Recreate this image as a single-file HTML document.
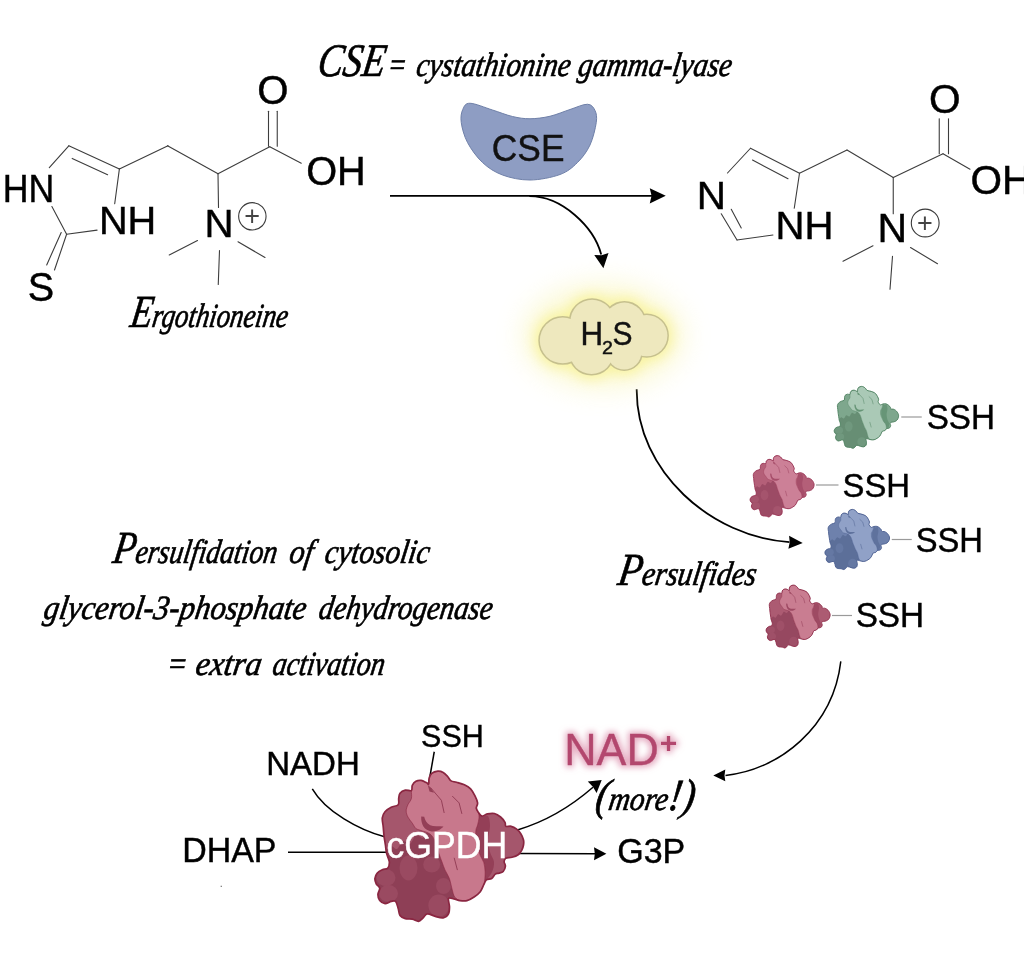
<!DOCTYPE html>
<html lang="en">
<head>
<meta charset="utf-8">
<title>Ergothioneine – CSE – persulfidation of cGPDH</title>
<style>
html,body{margin:0;padding:0;background:#fff;}
body{width:1024px;height:953px;overflow:hidden;}
svg{display:block;will-change:transform;}
.sans{font-family:'Liberation Sans', Arial, Helvetica, sans-serif;}
.sans text{stroke-width:0.45;paint-order:stroke fill;}
.script{font-family:'Liberation Serif', 'DejaVu Serif', serif;font-style:italic;fill:#000;stroke:#000;stroke-width:0.7;}
.bond line{stroke:#3d3d3d;stroke-width:1.1;stroke-linecap:round;}
.arrow path{stroke:#000;stroke-width:1.8;fill:none;}
.arrow path.thin{stroke-width:1.5;}
.pm{fill:var(--mid);}
.pd{fill:var(--dark);}
.ps{fill:var(--shade);}
.plb{fill:var(--lobe);}
.pl{fill:var(--light);stroke:var(--edge);stroke-width:var(--iw);stroke-linejoin:round;}
.pc{fill:none;stroke:var(--shade);stroke-width:var(--cw);stroke-linecap:round;stroke-linejoin:round;}
.pg{fill:var(--shade);}
.po{fill:none;stroke:var(--edge);stroke-width:var(--ow);stroke-linejoin:round;}
.red{--light:#c8788c;--mid:#a5566c;--dark:#8e3f56;--lobe:#9a4a61;--shade:#943f57;--edge:#8a2641;--ow:2.6;--iw:1;--cw:1.6;}
.big{--ow:1.7;--iw:0.6;--cw:1;}
.pink{--light:#cc8097;--mid:#b45f78;--dark:#9c4b65;--lobe:#a5546d;--shade:#a64e6a;--edge:#9c3a59;--ow:2.3;--iw:0.9;--cw:1.5;}
.pink2{--light:#c97d91;--mid:#ac5b72;--dark:#964860;--lobe:#9f5068;--shade:#9e4a63;--edge:#933450;--ow:2.3;--iw:0.9;--cw:1.5;}
.green{--light:#aac9b6;--mid:#7ea78d;--dark:#678e74;--lobe:#70987e;--shade:#679577;--edge:#548565;--ow:2.3;--iw:0.9;--cw:1.5;}
.blue{--light:#90a1c7;--mid:#6e81ac;--dark:#5c6f99;--lobe:#6578a3;--shade:#5f729d;--edge:#506393;--ow:2.3;--iw:0.9;--cw:1.5;}
</style>
</head>
<body>
<svg width="1024" height="953" viewBox="0 0 1024 953">
<defs>
<filter id="glow" x="-50%" y="-80%" width="200%" height="260%"><feGaussianBlur stdDeviation="6.5"/></filter>
<filter id="glow2" x="-50%" y="-80%" width="200%" height="260%"><feGaussianBlur stdDeviation="14"/></filter>
<filter id="pglow" x="-20%" y="-40%" width="140%" height="180%"><feMorphology in="SourceAlpha" operator="dilate" radius="1.6" result="d"/><feGaussianBlur in="d" stdDeviation="3" result="b"/><feFlood flood-color="#e09ab4" flood-opacity="0.85"/><feComposite in2="b" operator="in" result="g"/><feMerge><feMergeNode in="g"/><feMergeNode in="SourceGraphic"/></feMerge></filter>
</defs>
<rect width="1024" height="953" fill="#fff"/>
<g class="bond">
<line x1="68.80" y1="145.80" x2="119.40" y2="168.90"/>
<line x1="72.20" y1="158.40" x2="107.60" y2="174.70"/>
<line x1="68.80" y1="145.80" x2="49.30" y2="167.60"/>
<line x1="119.40" y1="168.90" x2="114.70" y2="203.80"/>
<line x1="97.10" y1="230.10" x2="66.60" y2="234.30"/>
<line x1="66.60" y1="234.30" x2="51.90" y2="206.50"/>
<line x1="66.60" y1="234.30" x2="54.50" y2="270.00"/>
<line x1="61.20" y1="232.60" x2="46.70" y2="264.90"/>
<line x1="119.40" y1="168.90" x2="168.00" y2="145.80"/>
<line x1="167.50" y1="145.75" x2="218.00" y2="173.75"/>
<line x1="218.00" y1="173.75" x2="269.75" y2="146.75"/>
<line x1="268.50" y1="111.25" x2="268.50" y2="146.25"/>
<line x1="277.25" y1="111.25" x2="277.25" y2="146.25"/>
<line x1="269.75" y1="146.75" x2="301.25" y2="163.25"/>
<line x1="218.00" y1="173.75" x2="218.50" y2="207.50"/>
<line x1="197.50" y1="240.50" x2="169.25" y2="255.00"/>
<line x1="238.00" y1="241.75" x2="265.00" y2="257.50"/>
<line x1="219.50" y1="250.50" x2="218.25" y2="284.50"/>
<line x1="750.50" y1="148.25" x2="799.50" y2="173.25"/>
<line x1="752.50" y1="160.00" x2="788.00" y2="178.75"/>
<line x1="750.50" y1="148.25" x2="727.50" y2="173.00"/>
<line x1="799.50" y1="173.25" x2="794.25" y2="208.25"/>
<line x1="773.00" y1="235.00" x2="737.00" y2="240.00"/>
<line x1="737.00" y1="240.00" x2="721.25" y2="213.75"/>
<line x1="741.25" y1="228.00" x2="731.25" y2="209.25"/>
<line x1="799.50" y1="173.25" x2="847.00" y2="150.00"/>
<line x1="847.00" y1="150.00" x2="893.25" y2="177.50"/>
<line x1="893.25" y1="177.50" x2="943.00" y2="153.75"/>
<line x1="939.25" y1="118.75" x2="939.25" y2="153.75"/>
<line x1="948.50" y1="118.75" x2="948.50" y2="153.75"/>
<line x1="943.00" y1="153.75" x2="970.00" y2="169.25"/>
<line x1="893.25" y1="177.50" x2="893.25" y2="213.75"/>
<line x1="873.00" y1="245.75" x2="843.00" y2="261.25"/>
<line x1="910.50" y1="247.50" x2="937.50" y2="263.75"/>
<line x1="892.50" y1="256.25" x2="890.00" y2="289.25"/>
</g>
<circle cx="252.35" cy="216.30" r="13.70" fill="none" stroke="#3a3a3a" stroke-width="1.1"/>
<text class="sans" x="244.15" y="225.04" font-size="27" fill="#444">+</text>
<circle cx="925.20" cy="223.00" r="13.90" fill="none" stroke="#3a3a3a" stroke-width="1.1"/>
<text class="sans" x="917.00" y="231.74" font-size="27" fill="#444">+</text>
<g class="sans">
<text x="2.77" y="202.03" font-size="38.12" textLength="51.54" lengthAdjust="spacingAndGlyphs" fill="#000" stroke="#000">HN</text>
<text x="98.90" y="234.28" font-size="39.20" textLength="57.38" lengthAdjust="spacingAndGlyphs" fill="#000" stroke="#000">NH</text>
<text x="27.74" y="301.26" font-size="41.20" textLength="26.39" lengthAdjust="spacingAndGlyphs" fill="#000" stroke="#000">S</text>
<text x="257.32" y="104.37" font-size="40.21" textLength="31.29" lengthAdjust="spacingAndGlyphs" fill="#000" stroke="#000">O</text>
<text x="306.14" y="185.28" font-size="39.79" textLength="59.62" lengthAdjust="spacingAndGlyphs" fill="#000" stroke="#000">OH</text>
<text x="204.60" y="237.08" font-size="38.77" textLength="29.08" lengthAdjust="spacingAndGlyphs" fill="#000" stroke="#000">N</text>
<text x="696.69" y="209.18" font-size="39.49" textLength="29.21" lengthAdjust="spacingAndGlyphs" fill="#000" stroke="#000">N</text>
<text x="775.62" y="238.97" font-size="39.64" textLength="57.94" lengthAdjust="spacingAndGlyphs" fill="#000" stroke="#000">NH</text>
<text x="877.55" y="242.47" font-size="39.78" textLength="29.60" lengthAdjust="spacingAndGlyphs" fill="#000" stroke="#000">N</text>
<text x="928.90" y="113.07" font-size="40.63" textLength="31.63" lengthAdjust="spacingAndGlyphs" fill="#000" stroke="#000">O</text>
<text x="970.40" y="194.27" font-size="40.07" textLength="60.82" lengthAdjust="spacingAndGlyphs" fill="#000" stroke="#000">OH</text>
<text x="926.63" y="429.23" font-size="34.58" textLength="68.34" lengthAdjust="spacingAndGlyphs" fill="#000" stroke="#000">SSH</text>
<text x="842.55" y="497.44" font-size="33.52" textLength="67.49" lengthAdjust="spacingAndGlyphs" fill="#000" stroke="#000">SSH</text>
<text x="915.65" y="551.63" font-size="34.15" textLength="67.28" lengthAdjust="spacingAndGlyphs" fill="#000" stroke="#000">SSH</text>
<text x="855.63" y="627.43" font-size="34.58" textLength="68.45" lengthAdjust="spacingAndGlyphs" fill="#000" stroke="#000">SSH</text>
<text x="421.05" y="746.76" font-size="31.62" textLength="62.70" lengthAdjust="spacingAndGlyphs" fill="#000" stroke="#000">SSH</text>
<text x="266.28" y="774.57" font-size="33.41" textLength="93.55" lengthAdjust="spacingAndGlyphs" fill="#000" stroke="#000">NADH</text>
<text x="182.16" y="861.57" font-size="34.86" textLength="94.33" lengthAdjust="spacingAndGlyphs" fill="#000" stroke="#000">DHAP</text>
<text x="617.27" y="863.32" font-size="35.14" textLength="68.03" lengthAdjust="spacingAndGlyphs" fill="#000" stroke="#000">G3P</text>
</g>
<path d="M470.00,103.25 C474.96,103.33 485.42,107.79 492.50,110.00 C499.58,112.21 506.25,115.04 512.50,116.50 C518.75,117.96 523.75,118.79 530.00,118.75 C536.25,118.71 543.33,117.79 550.00,116.25 C556.67,114.71 563.75,111.50 570.00,109.50 C576.25,107.50 583.33,104.08 587.50,104.25 C591.67,104.42 593.54,107.46 595.00,110.50 C596.46,113.54 597.08,116.75 596.25,122.50 C595.42,128.25 593.12,138.33 590.00,145.00 C586.88,151.67 582.50,157.58 577.50,162.50 C572.50,167.42 567.92,171.58 560.00,174.50 C552.08,177.42 539.58,179.92 530.00,180.00 C520.42,180.08 510.42,177.92 502.50,175.00 C494.58,172.08 488.33,167.92 482.50,162.50 C476.67,157.08 471.04,149.17 467.50,142.50 C463.96,135.83 462.04,128.00 461.25,122.50 C460.46,117.00 461.29,112.71 462.75,109.50 C464.21,106.29 465.04,103.17 470.00,103.25Z" fill="#8e9dc3" stroke="#6f80a8" stroke-width="1"/>
<g class="sans"><text x="491.86" y="160.70" font-size="37.82" textLength="72.57" lengthAdjust="spacingAndGlyphs" fill="#111" stroke="#111">CSE</text></g>
<g class="arrow">
<path d="M390,195.85 H652"/>
<path d="M529.4,196.2 C562.0,196.1 594.0,227.0 601.2,254.5"/>
<path d="M636.7,389.3 C636.1,471.5 711.9,537.3 789.5,542.1"/>
<path class="thin" d="M840.8,661.3 C833.2,727.2 778.9,770.1 725.5,775.4"/>
<path class="thin" d="M312.3,788.8 C325.6,811.8 359.4,830.1 384.6,836.8"/>
<path class="thin" d="M288,852.3 H387"/>
<path class="thin" d="M518,853.5 L596,853.7"/>
<path class="thin" d="M518.2,829.7 C550.2,820.2 576.1,802.0 593.0,787.3"/>
<path class="thin" d="M434.25,751.75 L430,776"/>
</g>
<polygon points="665.75,195.85 649.75,203.55 651.55,195.85 649.75,188.15" fill="#000"/>
<polygon points="603.40,268.20 594.27,254.94 601.56,255.13 608.53,252.94" fill="#000"/>
<polygon points="802.70,542.90 788.38,548.66 789.72,542.22 789.06,535.68" fill="#000"/>
<polygon points="713.30,775.40 725.30,769.50 724.50,775.40 725.30,781.30" fill="#000"/>
<polygon points="606.40,853.70 594.00,860.20 594.80,853.70 594.00,847.20" fill="#000"/>
<polygon points="601.70,780.00 596.59,793.03 592.83,786.83 587.80,781.62" fill="#000"/>
<g filter="url(#glow2)" opacity="0.48"><ellipse cx="603.5" cy="336" rx="80" ry="52" fill="#f7f2a4"/></g>
<g filter="url(#glow)" opacity="0.55" fill="#f5ed70">
<circle cx="562.70" cy="340.45" r="28.20"/>
<circle cx="592.10" cy="321.50" r="27.05"/>
<circle cx="624.40" cy="323.10" r="25.80"/>
<circle cx="646.70" cy="335.60" r="26.00"/>
<circle cx="624.20" cy="352.40" r="22.40"/>
<circle cx="591.50" cy="352.30" r="27.00"/>
<circle cx="605.00" cy="338.00" r="27.00"/>
</g>
<g fill="#eee8be" stroke="#c6c08e" stroke-width="2.4">
<circle cx="562.70" cy="340.45" r="23.20"/>
<circle cx="592.10" cy="321.50" r="22.05"/>
<circle cx="624.40" cy="323.10" r="20.80"/>
<circle cx="646.70" cy="335.60" r="21.00"/>
<circle cx="624.20" cy="352.40" r="17.40"/>
<circle cx="591.50" cy="352.30" r="22.00"/>
<circle cx="605.00" cy="338.00" r="22.00"/>
</g>
<g fill="#eee8be">
<circle cx="562.70" cy="340.45" r="22.90"/>
<circle cx="592.10" cy="321.50" r="21.75"/>
<circle cx="624.40" cy="323.10" r="20.50"/>
<circle cx="646.70" cy="335.60" r="20.70"/>
<circle cx="624.20" cy="352.40" r="17.10"/>
<circle cx="591.50" cy="352.30" r="21.70"/>
<circle cx="605.00" cy="338.00" r="21.70"/>
</g>
<g class="sans">
<text fill="#111" stroke="#111"><tspan x="580.62" y="344.97" font-size="32.83" textLength="22.63" lengthAdjust="spacingAndGlyphs">H</tspan><tspan x="602.04" y="353.88" font-size="18.21" textLength="10.94" lengthAdjust="spacingAndGlyphs">2</tspan><tspan x="612.48" y="345.24" font-size="33.45" textLength="20.01" lengthAdjust="spacingAndGlyphs">S</tspan></text>
</g>
<defs><clipPath id="pclip"><path d="M385.40,845.00 C385.03,842.38 384.47,839.45 384.10,836.40 C383.73,833.35 383.50,829.78 383.20,826.70 C382.90,823.62 382.00,820.40 382.30,817.90 C382.60,815.40 383.52,813.47 385.00,811.70 C386.48,809.93 389.00,808.47 391.20,807.30 C393.40,806.13 396.95,806.17 398.20,804.70 C399.45,803.23 398.40,800.42 398.70,798.50 C399.00,796.58 398.90,794.60 400.00,793.20 C401.10,791.80 403.40,790.53 405.30,790.10 C407.20,789.67 410.23,791.40 411.40,790.60 C412.57,789.80 411.55,786.85 412.30,785.30 C413.05,783.75 414.43,782.12 415.90,781.30 C417.37,780.48 419.35,780.18 421.10,780.40 C422.85,780.62 425.15,782.00 426.40,782.60 C427.65,783.20 428.15,784.73 428.60,784.00 C429.05,783.27 428.58,779.97 429.10,778.20 C429.62,776.43 430.23,774.57 431.70,773.40 C433.17,772.23 435.98,771.35 437.90,771.20 C439.82,771.05 441.58,771.62 443.20,772.50 C444.82,773.38 446.28,775.10 447.60,776.50 C448.92,777.90 449.62,779.95 451.10,780.90 C452.58,781.85 454.28,781.55 456.50,782.20 C458.72,782.85 462.05,783.70 464.40,784.80 C466.75,785.90 468.83,786.95 470.60,788.80 C472.37,790.65 473.83,793.55 475.00,795.90 C476.17,798.25 477.38,800.85 477.60,802.90 C477.82,804.95 476.15,806.58 476.30,808.20 C476.45,809.82 477.55,811.28 478.50,812.60 C479.45,813.92 480.53,815.88 482.00,816.10 C483.47,816.32 485.23,814.33 487.30,813.90 C489.37,813.47 492.18,812.98 494.40,813.50 C496.62,814.02 498.83,815.53 500.60,817.00 C502.37,818.47 504.13,820.75 505.00,822.30 C505.87,823.85 504.78,825.63 505.80,826.30 C506.82,826.97 509.33,825.87 511.10,826.30 C512.87,826.73 514.78,827.65 516.40,828.90 C518.02,830.15 519.62,831.95 520.80,833.80 C521.98,835.65 523.05,838.13 523.50,840.00 C523.95,841.87 523.80,843.28 523.50,845.00 C523.20,846.72 522.58,848.68 521.70,850.30 C520.82,851.92 519.82,853.53 518.20,854.70 C516.58,855.87 514.07,856.72 512.00,857.30 C509.93,857.88 507.12,857.45 505.80,858.20 C504.48,858.95 504.17,860.47 504.10,861.80 C504.03,863.13 505.55,864.58 505.40,866.20 C505.25,867.82 504.30,870.33 503.20,871.50 C502.10,872.67 500.12,872.77 498.80,873.20 C497.48,873.63 496.48,873.22 495.30,874.10 C494.12,874.98 493.18,877.55 491.70,878.50 C490.22,879.45 487.72,878.77 486.40,879.80 C485.08,880.83 484.82,882.72 483.80,884.70 C482.78,886.68 481.92,889.65 480.30,891.70 C478.68,893.75 476.32,895.52 474.10,897.00 C471.88,898.48 469.35,900.00 467.00,900.60 C464.65,901.20 462.20,900.90 460.00,900.60 C457.80,900.30 455.72,899.15 453.80,898.80 C451.88,898.45 449.22,897.18 448.50,898.50 C447.78,899.82 449.50,904.15 449.50,906.70 C449.50,909.25 449.55,911.95 448.50,913.80 C447.45,915.65 445.40,917.37 443.20,917.80 C441.00,918.23 437.95,917.07 435.30,916.40 C432.65,915.73 429.37,913.50 427.30,913.80 C425.23,914.10 424.37,916.95 422.90,918.20 C421.43,919.45 420.27,921.15 418.50,921.30 C416.73,921.45 414.50,919.55 412.30,919.10 C410.10,918.65 407.35,919.20 405.30,918.60 C403.25,918.00 401.18,917.18 400.00,915.50 C398.82,913.82 398.93,910.85 398.20,908.50 C397.47,906.15 396.77,902.58 395.60,901.40 C394.43,900.22 392.97,901.03 391.20,901.40 C389.43,901.77 386.92,903.73 385.00,903.60 C383.08,903.47 380.88,902.13 379.70,900.60 C378.52,899.07 377.90,896.47 377.90,894.40 C377.90,892.33 379.98,889.97 379.70,888.20 C379.42,886.43 377.00,885.42 376.20,883.80 C375.40,882.18 374.75,880.27 374.90,878.50 C375.05,876.73 375.87,874.67 377.10,873.20 C378.33,871.73 380.55,870.50 382.30,869.70 C384.05,868.90 386.42,869.58 387.60,868.40 C388.78,867.22 389.40,864.58 389.40,862.60 C389.40,860.62 388.12,858.25 387.60,856.50 C387.08,854.75 386.67,854.02 386.30,852.10 C385.93,850.18 385.77,847.62 385.40,845.00Z"/></clipPath><g id="prot">
<path class="pm" d="M385.40,845.00 C385.03,842.38 384.47,839.45 384.10,836.40 C383.73,833.35 383.50,829.78 383.20,826.70 C382.90,823.62 382.00,820.40 382.30,817.90 C382.60,815.40 383.52,813.47 385.00,811.70 C386.48,809.93 389.00,808.47 391.20,807.30 C393.40,806.13 396.95,806.17 398.20,804.70 C399.45,803.23 398.40,800.42 398.70,798.50 C399.00,796.58 398.90,794.60 400.00,793.20 C401.10,791.80 403.40,790.53 405.30,790.10 C407.20,789.67 410.23,791.40 411.40,790.60 C412.57,789.80 411.55,786.85 412.30,785.30 C413.05,783.75 414.43,782.12 415.90,781.30 C417.37,780.48 419.35,780.18 421.10,780.40 C422.85,780.62 425.15,782.00 426.40,782.60 C427.65,783.20 428.15,784.73 428.60,784.00 C429.05,783.27 428.58,779.97 429.10,778.20 C429.62,776.43 430.23,774.57 431.70,773.40 C433.17,772.23 435.98,771.35 437.90,771.20 C439.82,771.05 441.58,771.62 443.20,772.50 C444.82,773.38 446.28,775.10 447.60,776.50 C448.92,777.90 449.62,779.95 451.10,780.90 C452.58,781.85 454.28,781.55 456.50,782.20 C458.72,782.85 462.05,783.70 464.40,784.80 C466.75,785.90 468.83,786.95 470.60,788.80 C472.37,790.65 473.83,793.55 475.00,795.90 C476.17,798.25 477.38,800.85 477.60,802.90 C477.82,804.95 476.15,806.58 476.30,808.20 C476.45,809.82 477.55,811.28 478.50,812.60 C479.45,813.92 480.53,815.88 482.00,816.10 C483.47,816.32 485.23,814.33 487.30,813.90 C489.37,813.47 492.18,812.98 494.40,813.50 C496.62,814.02 498.83,815.53 500.60,817.00 C502.37,818.47 504.13,820.75 505.00,822.30 C505.87,823.85 504.78,825.63 505.80,826.30 C506.82,826.97 509.33,825.87 511.10,826.30 C512.87,826.73 514.78,827.65 516.40,828.90 C518.02,830.15 519.62,831.95 520.80,833.80 C521.98,835.65 523.05,838.13 523.50,840.00 C523.95,841.87 523.80,843.28 523.50,845.00 C523.20,846.72 522.58,848.68 521.70,850.30 C520.82,851.92 519.82,853.53 518.20,854.70 C516.58,855.87 514.07,856.72 512.00,857.30 C509.93,857.88 507.12,857.45 505.80,858.20 C504.48,858.95 504.17,860.47 504.10,861.80 C504.03,863.13 505.55,864.58 505.40,866.20 C505.25,867.82 504.30,870.33 503.20,871.50 C502.10,872.67 500.12,872.77 498.80,873.20 C497.48,873.63 496.48,873.22 495.30,874.10 C494.12,874.98 493.18,877.55 491.70,878.50 C490.22,879.45 487.72,878.77 486.40,879.80 C485.08,880.83 484.82,882.72 483.80,884.70 C482.78,886.68 481.92,889.65 480.30,891.70 C478.68,893.75 476.32,895.52 474.10,897.00 C471.88,898.48 469.35,900.00 467.00,900.60 C464.65,901.20 462.20,900.90 460.00,900.60 C457.80,900.30 455.72,899.15 453.80,898.80 C451.88,898.45 449.22,897.18 448.50,898.50 C447.78,899.82 449.50,904.15 449.50,906.70 C449.50,909.25 449.55,911.95 448.50,913.80 C447.45,915.65 445.40,917.37 443.20,917.80 C441.00,918.23 437.95,917.07 435.30,916.40 C432.65,915.73 429.37,913.50 427.30,913.80 C425.23,914.10 424.37,916.95 422.90,918.20 C421.43,919.45 420.27,921.15 418.50,921.30 C416.73,921.45 414.50,919.55 412.30,919.10 C410.10,918.65 407.35,919.20 405.30,918.60 C403.25,918.00 401.18,917.18 400.00,915.50 C398.82,913.82 398.93,910.85 398.20,908.50 C397.47,906.15 396.77,902.58 395.60,901.40 C394.43,900.22 392.97,901.03 391.20,901.40 C389.43,901.77 386.92,903.73 385.00,903.60 C383.08,903.47 380.88,902.13 379.70,900.60 C378.52,899.07 377.90,896.47 377.90,894.40 C377.90,892.33 379.98,889.97 379.70,888.20 C379.42,886.43 377.00,885.42 376.20,883.80 C375.40,882.18 374.75,880.27 374.90,878.50 C375.05,876.73 375.87,874.67 377.10,873.20 C378.33,871.73 380.55,870.50 382.30,869.70 C384.05,868.90 386.42,869.58 387.60,868.40 C388.78,867.22 389.40,864.58 389.40,862.60 C389.40,860.62 388.12,858.25 387.60,856.50 C387.08,854.75 386.67,854.02 386.30,852.10 C385.93,850.18 385.77,847.62 385.40,845.00Z"/>
<g clip-path="url(#pclip)">
<path class="pd" d="M386.00,853.00 C386.27,850.23 389.17,846.67 391.00,846.00 C392.83,845.33 395.00,849.83 397.00,849.00 C399.00,848.17 400.83,841.83 403.00,841.00 C405.17,840.17 407.83,845.00 410.00,844.00 C412.17,843.00 413.83,836.00 416.00,835.00 C418.17,834.00 421.00,838.50 423.00,838.00 C425.00,837.50 426.17,831.67 428.00,832.00 C429.83,832.33 432.17,836.38 434.00,840.00 C435.83,843.62 437.67,850.03 439.00,853.70 C440.33,857.37 441.00,859.28 442.00,862.00 C443.00,864.72 443.77,867.25 445.00,870.00 C446.23,872.75 448.23,875.33 449.40,878.50 C450.57,881.67 451.12,885.92 452.00,889.00 C452.88,892.08 455.28,895.42 454.70,897.00 C454.12,898.58 449.37,896.88 448.50,898.50 C447.63,900.12 449.50,904.15 449.50,906.70 C449.50,909.25 449.55,911.95 448.50,913.80 C447.45,915.65 445.40,917.37 443.20,917.80 C441.00,918.23 437.95,917.07 435.30,916.40 C432.65,915.73 429.37,913.50 427.30,913.80 C425.23,914.10 424.37,916.95 422.90,918.20 C421.43,919.45 420.27,921.15 418.50,921.30 C416.73,921.45 414.50,919.55 412.30,919.10 C410.10,918.65 407.35,919.20 405.30,918.60 C403.25,918.00 401.18,917.18 400.00,915.50 C398.82,913.82 398.93,910.85 398.20,908.50 C397.47,906.15 396.77,902.58 395.60,901.40 C394.43,900.22 392.97,901.03 391.20,901.40 C389.43,901.77 386.92,903.73 385.00,903.60 C383.08,903.47 380.88,902.13 379.70,900.60 C378.52,899.07 377.90,896.47 377.90,894.40 C377.90,892.33 379.98,889.97 379.70,888.20 C379.42,886.43 377.00,885.42 376.20,883.80 C375.40,882.18 374.75,880.27 374.90,878.50 C375.05,876.73 375.87,874.67 377.10,873.20 C378.33,871.73 380.55,870.50 382.30,869.70 C384.05,868.90 386.42,869.58 387.60,868.40 C388.78,867.22 389.67,865.17 389.40,862.60 C389.13,860.03 385.73,855.77 386.00,853.00Z"/>
<path class="ps" d="M478.50,812.60 C479.00,812.30 480.42,815.53 482.00,816.10 C483.58,816.67 486.67,814.35 488.00,816.00 C489.33,817.65 490.00,822.00 490.00,826.00 C490.00,830.00 488.00,835.67 488.00,840.00 C488.00,844.33 489.00,848.33 490.00,852.00 C491.00,855.67 493.67,858.67 494.00,862.00 C494.33,865.33 493.27,869.03 492.00,872.00 C490.73,874.97 487.62,878.42 486.40,879.80 C485.18,881.18 484.92,881.68 484.70,880.30 C484.48,878.92 485.25,874.45 485.10,871.50 C484.95,868.55 484.60,865.25 483.80,862.60 C483.00,859.95 481.27,858.03 480.30,855.60 C479.33,853.17 478.72,850.60 478.00,848.00 C477.28,845.40 476.35,842.95 476.00,840.00 C475.65,837.05 475.63,832.80 475.90,830.30 C476.17,827.80 477.08,827.07 477.60,825.00 C478.12,822.93 478.85,819.97 479.00,817.90 C479.15,815.83 478.00,812.90 478.50,812.60Z"/>
<g class="plb">
<ellipse cx="386.0" cy="877.8" rx="9.5" ry="8.5"/>
<ellipse cx="388.5" cy="893.5" rx="9.5" ry="8.5"/>
<ellipse cx="438.8" cy="905.5" rx="10.5" ry="11.0"/>
<ellipse cx="443.5" cy="886.0" rx="7.5" ry="8.0"/>
<ellipse cx="431.7" cy="864.5" rx="8.5" ry="8.0"/>
<ellipse cx="408.5" cy="868.0" rx="9.0" ry="12.5"/>
</g>
<path class="pl" d="M412.30,785.30 C413.05,783.75 414.43,782.12 415.90,781.30 C417.37,780.48 419.35,780.18 421.10,780.40 C422.85,780.62 425.15,782.00 426.40,782.60 C427.65,783.20 428.15,784.73 428.60,784.00 C429.05,783.27 428.58,779.97 429.10,778.20 C429.62,776.43 430.23,774.57 431.70,773.40 C433.17,772.23 435.98,771.35 437.90,771.20 C439.82,771.05 441.58,771.62 443.20,772.50 C444.82,773.38 446.28,775.10 447.60,776.50 C448.92,777.90 449.62,779.95 451.10,780.90 C452.58,781.85 454.28,781.55 456.50,782.20 C458.72,782.85 462.05,783.70 464.40,784.80 C466.75,785.90 468.83,786.95 470.60,788.80 C472.37,790.65 473.83,793.55 475.00,795.90 C476.17,798.25 477.38,800.85 477.60,802.90 C477.82,804.95 476.15,806.58 476.30,808.20 C476.45,809.82 478.05,810.98 478.50,812.60 C478.95,814.22 479.15,815.83 479.00,817.90 C478.85,819.97 478.12,822.93 477.60,825.00 C477.08,827.07 476.17,827.80 475.90,830.30 C475.63,832.80 475.65,837.05 476.00,840.00 C476.35,842.95 477.28,845.40 478.00,848.00 C478.72,850.60 479.33,853.17 480.30,855.60 C481.27,858.03 483.00,859.95 483.80,862.60 C484.60,865.25 484.95,868.55 485.10,871.50 C485.25,874.45 484.92,878.10 484.70,880.30 C484.48,882.50 484.53,882.80 483.80,884.70 C483.07,886.60 481.92,889.65 480.30,891.70 C478.68,893.75 476.32,895.52 474.10,897.00 C471.88,898.48 469.35,900.00 467.00,900.60 C464.65,901.20 462.05,901.20 460.00,900.60 C457.95,900.00 456.03,898.93 454.70,897.00 C453.37,895.07 452.88,892.08 452.00,889.00 C451.12,885.92 450.57,881.67 449.40,878.50 C448.23,875.33 446.23,872.75 445.00,870.00 C443.77,867.25 443.00,864.72 442.00,862.00 C441.00,859.28 440.08,857.03 439.00,853.70 C437.92,850.37 437.00,845.28 435.50,842.00 C434.00,838.72 432.53,835.95 430.00,834.00 C427.47,832.05 422.65,831.22 420.30,830.30 C417.95,829.38 417.23,829.68 415.90,828.50 C414.57,827.32 413.63,825.12 412.30,823.20 C410.97,821.28 408.92,819.05 407.90,817.00 C406.88,814.95 406.20,812.95 406.20,810.90 C406.20,808.85 407.03,806.77 407.90,804.70 C408.77,802.63 410.82,800.85 411.40,798.50 C411.98,796.15 411.25,792.80 411.40,790.60 C411.55,788.40 411.55,786.85 412.30,785.30Z"/>
<path class="pc" d="M430.8,787.9 L436.1,794.1 L441.4,800.3 L444.1,812.6 M452.5,796.3 L459.1,802.9 L461.8,813.5 M454.3,858.2 L457.3,869.7"/>
<path class="pg" d="M427.6,784.5 L429.5,791.5 L434,792.8 L431,788 Z"/>
<path class="pg" d="M421.2,816.5 C420.8,824.5 424.5,830.6 431.5,831.4 C436.5,832 441,829.5 443.5,826.6 C438.5,826 433.5,826.6 430.2,825.2 C426.5,823.4 425,820 424.2,816.8 Z"/>
</g>
<path class="po" d="M385.40,845.00 C385.03,842.38 384.47,839.45 384.10,836.40 C383.73,833.35 383.50,829.78 383.20,826.70 C382.90,823.62 382.00,820.40 382.30,817.90 C382.60,815.40 383.52,813.47 385.00,811.70 C386.48,809.93 389.00,808.47 391.20,807.30 C393.40,806.13 396.95,806.17 398.20,804.70 C399.45,803.23 398.40,800.42 398.70,798.50 C399.00,796.58 398.90,794.60 400.00,793.20 C401.10,791.80 403.40,790.53 405.30,790.10 C407.20,789.67 410.23,791.40 411.40,790.60 C412.57,789.80 411.55,786.85 412.30,785.30 C413.05,783.75 414.43,782.12 415.90,781.30 C417.37,780.48 419.35,780.18 421.10,780.40 C422.85,780.62 425.15,782.00 426.40,782.60 C427.65,783.20 428.15,784.73 428.60,784.00 C429.05,783.27 428.58,779.97 429.10,778.20 C429.62,776.43 430.23,774.57 431.70,773.40 C433.17,772.23 435.98,771.35 437.90,771.20 C439.82,771.05 441.58,771.62 443.20,772.50 C444.82,773.38 446.28,775.10 447.60,776.50 C448.92,777.90 449.62,779.95 451.10,780.90 C452.58,781.85 454.28,781.55 456.50,782.20 C458.72,782.85 462.05,783.70 464.40,784.80 C466.75,785.90 468.83,786.95 470.60,788.80 C472.37,790.65 473.83,793.55 475.00,795.90 C476.17,798.25 477.38,800.85 477.60,802.90 C477.82,804.95 476.15,806.58 476.30,808.20 C476.45,809.82 477.55,811.28 478.50,812.60 C479.45,813.92 480.53,815.88 482.00,816.10 C483.47,816.32 485.23,814.33 487.30,813.90 C489.37,813.47 492.18,812.98 494.40,813.50 C496.62,814.02 498.83,815.53 500.60,817.00 C502.37,818.47 504.13,820.75 505.00,822.30 C505.87,823.85 504.78,825.63 505.80,826.30 C506.82,826.97 509.33,825.87 511.10,826.30 C512.87,826.73 514.78,827.65 516.40,828.90 C518.02,830.15 519.62,831.95 520.80,833.80 C521.98,835.65 523.05,838.13 523.50,840.00 C523.95,841.87 523.80,843.28 523.50,845.00 C523.20,846.72 522.58,848.68 521.70,850.30 C520.82,851.92 519.82,853.53 518.20,854.70 C516.58,855.87 514.07,856.72 512.00,857.30 C509.93,857.88 507.12,857.45 505.80,858.20 C504.48,858.95 504.17,860.47 504.10,861.80 C504.03,863.13 505.55,864.58 505.40,866.20 C505.25,867.82 504.30,870.33 503.20,871.50 C502.10,872.67 500.12,872.77 498.80,873.20 C497.48,873.63 496.48,873.22 495.30,874.10 C494.12,874.98 493.18,877.55 491.70,878.50 C490.22,879.45 487.72,878.77 486.40,879.80 C485.08,880.83 484.82,882.72 483.80,884.70 C482.78,886.68 481.92,889.65 480.30,891.70 C478.68,893.75 476.32,895.52 474.10,897.00 C471.88,898.48 469.35,900.00 467.00,900.60 C464.65,901.20 462.20,900.90 460.00,900.60 C457.80,900.30 455.72,899.15 453.80,898.80 C451.88,898.45 449.22,897.18 448.50,898.50 C447.78,899.82 449.50,904.15 449.50,906.70 C449.50,909.25 449.55,911.95 448.50,913.80 C447.45,915.65 445.40,917.37 443.20,917.80 C441.00,918.23 437.95,917.07 435.30,916.40 C432.65,915.73 429.37,913.50 427.30,913.80 C425.23,914.10 424.37,916.95 422.90,918.20 C421.43,919.45 420.27,921.15 418.50,921.30 C416.73,921.45 414.50,919.55 412.30,919.10 C410.10,918.65 407.35,919.20 405.30,918.60 C403.25,918.00 401.18,917.18 400.00,915.50 C398.82,913.82 398.93,910.85 398.20,908.50 C397.47,906.15 396.77,902.58 395.60,901.40 C394.43,900.22 392.97,901.03 391.20,901.40 C389.43,901.77 386.92,903.73 385.00,903.60 C383.08,903.47 380.88,902.13 379.70,900.60 C378.52,899.07 377.90,896.47 377.90,894.40 C377.90,892.33 379.98,889.97 379.70,888.20 C379.42,886.43 377.00,885.42 376.20,883.80 C375.40,882.18 374.75,880.27 374.90,878.50 C375.05,876.73 375.87,874.67 377.10,873.20 C378.33,871.73 380.55,870.50 382.30,869.70 C384.05,868.90 386.42,869.58 387.60,868.40 C388.78,867.22 389.40,864.58 389.40,862.60 C389.40,860.62 388.12,858.25 387.60,856.50 C387.08,854.75 386.67,854.02 386.30,852.10 C385.93,850.18 385.77,847.62 385.40,845.00Z"/>
</g>
<g id="prots">
<path class="pm" d="M385.40,845.00 C385.03,842.38 384.47,839.45 384.10,836.40 C383.73,833.35 383.50,829.78 383.20,826.70 C382.90,823.62 382.00,820.40 382.30,817.90 C382.60,815.40 383.52,813.47 385.00,811.70 C386.48,809.93 389.00,808.47 391.20,807.30 C393.40,806.13 396.95,806.17 398.20,804.70 C399.45,803.23 398.40,800.42 398.70,798.50 C399.00,796.58 398.90,794.60 400.00,793.20 C401.10,791.80 403.40,790.53 405.30,790.10 C407.20,789.67 410.23,791.40 411.40,790.60 C412.57,789.80 411.55,786.85 412.30,785.30 C413.05,783.75 414.43,782.12 415.90,781.30 C417.37,780.48 419.35,780.18 421.10,780.40 C422.85,780.62 425.15,782.00 426.40,782.60 C427.65,783.20 428.15,784.73 428.60,784.00 C429.05,783.27 428.58,779.97 429.10,778.20 C429.62,776.43 430.23,774.57 431.70,773.40 C433.17,772.23 435.98,771.35 437.90,771.20 C439.82,771.05 441.58,771.62 443.20,772.50 C444.82,773.38 446.28,775.10 447.60,776.50 C448.92,777.90 449.62,779.95 451.10,780.90 C452.58,781.85 454.28,781.55 456.50,782.20 C458.72,782.85 462.05,783.70 464.40,784.80 C466.75,785.90 468.83,786.95 470.60,788.80 C472.37,790.65 473.83,793.55 475.00,795.90 C476.17,798.25 477.38,800.85 477.60,802.90 C477.82,804.95 476.15,806.58 476.30,808.20 C476.45,809.82 477.55,811.28 478.50,812.60 C479.45,813.92 480.53,815.88 482.00,816.10 C483.47,816.32 485.23,814.33 487.30,813.90 C489.37,813.47 492.18,812.98 494.40,813.50 C496.62,814.02 498.83,815.53 500.60,817.00 C502.37,818.47 504.13,820.75 505.00,822.30 C505.87,823.85 504.78,825.63 505.80,826.30 C506.82,826.97 509.33,825.87 511.10,826.30 C512.87,826.73 514.78,827.65 516.40,828.90 C518.02,830.15 519.62,831.95 520.80,833.80 C521.98,835.65 523.05,838.13 523.50,840.00 C523.95,841.87 523.80,843.28 523.50,845.00 C523.20,846.72 522.58,848.68 521.70,850.30 C520.82,851.92 519.82,853.53 518.20,854.70 C516.58,855.87 514.07,856.72 512.00,857.30 C509.93,857.88 507.12,857.45 505.80,858.20 C504.48,858.95 504.17,860.47 504.10,861.80 C504.03,863.13 505.55,864.58 505.40,866.20 C505.25,867.82 504.30,870.33 503.20,871.50 C502.10,872.67 500.12,872.77 498.80,873.20 C497.48,873.63 496.48,873.22 495.30,874.10 C494.12,874.98 493.18,877.55 491.70,878.50 C490.22,879.45 487.72,878.77 486.40,879.80 C485.08,880.83 484.82,882.72 483.80,884.70 C482.78,886.68 481.92,889.65 480.30,891.70 C478.68,893.75 476.32,895.52 474.10,897.00 C471.88,898.48 469.35,900.00 467.00,900.60 C464.65,901.20 462.20,900.90 460.00,900.60 C457.80,900.30 455.72,899.15 453.80,898.80 C451.88,898.45 449.22,897.18 448.50,898.50 C447.78,899.82 449.50,904.15 449.50,906.70 C449.50,909.25 449.55,911.95 448.50,913.80 C447.45,915.65 445.40,917.37 443.20,917.80 C441.00,918.23 437.95,917.07 435.30,916.40 C432.65,915.73 429.37,913.50 427.30,913.80 C425.23,914.10 424.37,916.95 422.90,918.20 C421.43,919.45 420.27,921.15 418.50,921.30 C416.73,921.45 414.50,919.55 412.30,919.10 C410.10,918.65 407.35,919.20 405.30,918.60 C403.25,918.00 401.18,917.18 400.00,915.50 C398.82,913.82 398.93,910.85 398.20,908.50 C397.47,906.15 396.77,902.58 395.60,901.40 C394.43,900.22 392.97,901.03 391.20,901.40 C389.43,901.77 386.92,903.73 385.00,903.60 C383.08,903.47 380.88,902.13 379.70,900.60 C378.52,899.07 377.90,896.47 377.90,894.40 C377.90,892.33 379.98,889.97 379.70,888.20 C379.42,886.43 377.00,885.42 376.20,883.80 C375.40,882.18 374.75,880.27 374.90,878.50 C375.05,876.73 375.87,874.67 377.10,873.20 C378.33,871.73 380.55,870.50 382.30,869.70 C384.05,868.90 386.42,869.58 387.60,868.40 C388.78,867.22 389.40,864.58 389.40,862.60 C389.40,860.62 388.12,858.25 387.60,856.50 C387.08,854.75 386.67,854.02 386.30,852.10 C385.93,850.18 385.77,847.62 385.40,845.00Z"/>
<g clip-path="url(#pclip)">
<path class="pd" d="M386.00,853.00 C386.27,850.23 389.17,846.67 391.00,846.00 C392.83,845.33 395.00,849.83 397.00,849.00 C399.00,848.17 400.83,841.83 403.00,841.00 C405.17,840.17 407.83,845.00 410.00,844.00 C412.17,843.00 413.83,836.00 416.00,835.00 C418.17,834.00 421.00,838.50 423.00,838.00 C425.00,837.50 426.17,831.67 428.00,832.00 C429.83,832.33 432.17,836.38 434.00,840.00 C435.83,843.62 437.67,850.03 439.00,853.70 C440.33,857.37 441.00,859.28 442.00,862.00 C443.00,864.72 443.77,867.25 445.00,870.00 C446.23,872.75 448.23,875.33 449.40,878.50 C450.57,881.67 451.12,885.92 452.00,889.00 C452.88,892.08 455.28,895.42 454.70,897.00 C454.12,898.58 449.37,896.88 448.50,898.50 C447.63,900.12 449.50,904.15 449.50,906.70 C449.50,909.25 449.55,911.95 448.50,913.80 C447.45,915.65 445.40,917.37 443.20,917.80 C441.00,918.23 437.95,917.07 435.30,916.40 C432.65,915.73 429.37,913.50 427.30,913.80 C425.23,914.10 424.37,916.95 422.90,918.20 C421.43,919.45 420.27,921.15 418.50,921.30 C416.73,921.45 414.50,919.55 412.30,919.10 C410.10,918.65 407.35,919.20 405.30,918.60 C403.25,918.00 401.18,917.18 400.00,915.50 C398.82,913.82 398.93,910.85 398.20,908.50 C397.47,906.15 396.77,902.58 395.60,901.40 C394.43,900.22 392.97,901.03 391.20,901.40 C389.43,901.77 386.92,903.73 385.00,903.60 C383.08,903.47 380.88,902.13 379.70,900.60 C378.52,899.07 377.90,896.47 377.90,894.40 C377.90,892.33 379.98,889.97 379.70,888.20 C379.42,886.43 377.00,885.42 376.20,883.80 C375.40,882.18 374.75,880.27 374.90,878.50 C375.05,876.73 375.87,874.67 377.10,873.20 C378.33,871.73 380.55,870.50 382.30,869.70 C384.05,868.90 386.42,869.58 387.60,868.40 C388.78,867.22 389.67,865.17 389.40,862.60 C389.13,860.03 385.73,855.77 386.00,853.00Z"/>
<path class="ps" d="M486.50,812.60 C487.00,812.30 488.42,815.53 490.00,816.10 C491.58,816.67 494.67,814.35 496.00,816.00 C497.33,817.65 498.00,822.00 498.00,826.00 C498.00,830.00 496.00,835.67 496.00,840.00 C496.00,844.33 497.00,848.33 498.00,852.00 C499.00,855.67 501.67,858.67 502.00,862.00 C502.33,865.33 501.27,869.03 500.00,872.00 C498.73,874.97 495.62,878.42 494.40,879.80 C493.18,881.18 492.92,881.68 492.70,880.30 C492.48,878.92 493.25,874.45 493.10,871.50 C492.95,868.55 492.60,865.25 491.80,862.60 C491.00,859.95 489.27,858.03 488.30,855.60 C487.33,853.17 486.72,850.60 486.00,848.00 C485.28,845.40 484.35,842.95 484.00,840.00 C483.65,837.05 483.63,832.80 483.90,830.30 C484.17,827.80 485.08,827.07 485.60,825.00 C486.12,822.93 486.85,819.97 487.00,817.90 C487.15,815.83 486.00,812.90 486.50,812.60Z"/>
<g class="plb">
<ellipse cx="386.0" cy="877.8" rx="9.5" ry="8.5"/>
<ellipse cx="388.5" cy="893.5" rx="9.5" ry="8.5"/>
<ellipse cx="438.8" cy="905.5" rx="10.5" ry="11.0"/>
<ellipse cx="408.5" cy="868.0" rx="9.0" ry="12.5"/>
</g>
<path class="pl" d="M412.30,785.30 C413.05,783.75 414.43,782.12 415.90,781.30 C417.37,780.48 419.35,780.18 421.10,780.40 C422.85,780.62 425.15,782.00 426.40,782.60 C427.65,783.20 428.15,784.73 428.60,784.00 C429.05,783.27 428.58,779.97 429.10,778.20 C429.62,776.43 430.23,774.57 431.70,773.40 C433.17,772.23 435.98,771.35 437.90,771.20 C439.82,771.05 441.58,771.62 443.20,772.50 C444.82,773.38 446.28,775.10 447.60,776.50 C448.92,777.90 449.62,779.95 451.10,780.90 C452.58,781.85 454.10,781.55 456.50,782.20 C458.90,782.85 462.48,783.70 465.48,784.80 C468.47,785.90 471.91,786.95 474.47,788.80 C477.03,790.65 479.16,793.55 480.85,795.90 C482.54,798.25 484.31,800.85 484.62,802.90 C484.93,804.95 482.52,806.58 482.74,808.20 C482.95,809.82 485.27,810.98 485.93,812.60 C486.58,814.22 486.87,815.83 486.65,817.90 C486.43,819.97 485.37,822.93 484.62,825.00 C483.87,827.07 482.54,827.80 482.15,830.30 C481.77,832.80 481.79,837.05 482.30,840.00 C482.81,842.95 484.16,845.40 485.20,848.00 C486.24,850.60 487.13,853.17 488.54,855.60 C489.94,858.03 492.45,859.95 493.61,862.60 C494.77,865.25 495.28,868.55 495.50,871.50 C495.71,874.45 495.23,878.10 494.91,880.30 C494.60,882.50 494.67,882.80 493.61,884.70 C492.55,886.60 490.88,889.65 488.54,891.70 C486.19,893.75 482.76,895.52 479.55,897.00 C476.33,898.48 472.51,900.00 469.25,900.60 C465.99,901.20 462.43,901.20 460.00,900.60 C457.57,900.00 456.03,898.93 454.70,897.00 C453.37,895.07 452.88,892.08 452.00,889.00 C451.12,885.92 450.57,881.67 449.40,878.50 C448.23,875.33 446.23,872.75 445.00,870.00 C443.77,867.25 443.00,864.72 442.00,862.00 C441.00,859.28 440.08,857.03 439.00,853.70 C437.92,850.37 437.00,845.28 435.50,842.00 C434.00,838.72 432.53,835.95 430.00,834.00 C427.47,832.05 422.65,831.22 420.30,830.30 C417.95,829.38 417.23,829.68 415.90,828.50 C414.57,827.32 413.63,825.12 412.30,823.20 C410.97,821.28 408.92,819.05 407.90,817.00 C406.88,814.95 406.20,812.95 406.20,810.90 C406.20,808.85 407.03,806.77 407.90,804.70 C408.77,802.63 410.82,800.85 411.40,798.50 C411.98,796.15 411.25,792.80 411.40,790.60 C411.55,788.40 411.55,786.85 412.30,785.30Z"/>
<path class="pc" d="M430.8,787.9 L436.1,794.1 L441.4,800.3 L444.1,812.6 M455.5,796.3 L462.1,802.9 L464.8,813.5 M457.3,858.2 L460.3,869.7"/>
<path class="pg" d="M427.6,784.5 L429.5,791.5 L434,792.8 L431,788 Z"/>
<path class="pg" d="M421.5,815 C421.5,824 425,831.5 432.5,832.5 C437,833 442,830.5 444.5,827.5 C440,827.5 434,828.5 430.5,827 C426.5,825 425,821 424.5,815.5 Z"/>
</g>
<path class="po" d="M385.40,845.00 C385.03,842.38 384.47,839.45 384.10,836.40 C383.73,833.35 383.50,829.78 383.20,826.70 C382.90,823.62 382.00,820.40 382.30,817.90 C382.60,815.40 383.52,813.47 385.00,811.70 C386.48,809.93 389.00,808.47 391.20,807.30 C393.40,806.13 396.95,806.17 398.20,804.70 C399.45,803.23 398.40,800.42 398.70,798.50 C399.00,796.58 398.90,794.60 400.00,793.20 C401.10,791.80 403.40,790.53 405.30,790.10 C407.20,789.67 410.23,791.40 411.40,790.60 C412.57,789.80 411.55,786.85 412.30,785.30 C413.05,783.75 414.43,782.12 415.90,781.30 C417.37,780.48 419.35,780.18 421.10,780.40 C422.85,780.62 425.15,782.00 426.40,782.60 C427.65,783.20 428.15,784.73 428.60,784.00 C429.05,783.27 428.58,779.97 429.10,778.20 C429.62,776.43 430.23,774.57 431.70,773.40 C433.17,772.23 435.98,771.35 437.90,771.20 C439.82,771.05 441.58,771.62 443.20,772.50 C444.82,773.38 446.28,775.10 447.60,776.50 C448.92,777.90 449.62,779.95 451.10,780.90 C452.58,781.85 454.28,781.55 456.50,782.20 C458.72,782.85 462.05,783.70 464.40,784.80 C466.75,785.90 468.83,786.95 470.60,788.80 C472.37,790.65 473.83,793.55 475.00,795.90 C476.17,798.25 477.38,800.85 477.60,802.90 C477.82,804.95 476.15,806.58 476.30,808.20 C476.45,809.82 477.55,811.28 478.50,812.60 C479.45,813.92 480.53,815.88 482.00,816.10 C483.47,816.32 485.23,814.33 487.30,813.90 C489.37,813.47 492.18,812.98 494.40,813.50 C496.62,814.02 498.83,815.53 500.60,817.00 C502.37,818.47 504.13,820.75 505.00,822.30 C505.87,823.85 504.78,825.63 505.80,826.30 C506.82,826.97 509.33,825.87 511.10,826.30 C512.87,826.73 514.78,827.65 516.40,828.90 C518.02,830.15 519.62,831.95 520.80,833.80 C521.98,835.65 523.05,838.13 523.50,840.00 C523.95,841.87 523.80,843.28 523.50,845.00 C523.20,846.72 522.58,848.68 521.70,850.30 C520.82,851.92 519.82,853.53 518.20,854.70 C516.58,855.87 514.07,856.72 512.00,857.30 C509.93,857.88 507.12,857.45 505.80,858.20 C504.48,858.95 504.17,860.47 504.10,861.80 C504.03,863.13 505.55,864.58 505.40,866.20 C505.25,867.82 504.30,870.33 503.20,871.50 C502.10,872.67 500.12,872.77 498.80,873.20 C497.48,873.63 496.48,873.22 495.30,874.10 C494.12,874.98 493.18,877.55 491.70,878.50 C490.22,879.45 487.72,878.77 486.40,879.80 C485.08,880.83 484.82,882.72 483.80,884.70 C482.78,886.68 481.92,889.65 480.30,891.70 C478.68,893.75 476.32,895.52 474.10,897.00 C471.88,898.48 469.35,900.00 467.00,900.60 C464.65,901.20 462.20,900.90 460.00,900.60 C457.80,900.30 455.72,899.15 453.80,898.80 C451.88,898.45 449.22,897.18 448.50,898.50 C447.78,899.82 449.50,904.15 449.50,906.70 C449.50,909.25 449.55,911.95 448.50,913.80 C447.45,915.65 445.40,917.37 443.20,917.80 C441.00,918.23 437.95,917.07 435.30,916.40 C432.65,915.73 429.37,913.50 427.30,913.80 C425.23,914.10 424.37,916.95 422.90,918.20 C421.43,919.45 420.27,921.15 418.50,921.30 C416.73,921.45 414.50,919.55 412.30,919.10 C410.10,918.65 407.35,919.20 405.30,918.60 C403.25,918.00 401.18,917.18 400.00,915.50 C398.82,913.82 398.93,910.85 398.20,908.50 C397.47,906.15 396.77,902.58 395.60,901.40 C394.43,900.22 392.97,901.03 391.20,901.40 C389.43,901.77 386.92,903.73 385.00,903.60 C383.08,903.47 380.88,902.13 379.70,900.60 C378.52,899.07 377.90,896.47 377.90,894.40 C377.90,892.33 379.98,889.97 379.70,888.20 C379.42,886.43 377.00,885.42 376.20,883.80 C375.40,882.18 374.75,880.27 374.90,878.50 C375.05,876.73 375.87,874.67 377.10,873.20 C378.33,871.73 380.55,870.50 382.30,869.70 C384.05,868.90 386.42,869.58 387.60,868.40 C388.78,867.22 389.40,864.58 389.40,862.60 C389.40,860.62 388.12,858.25 387.60,856.50 C387.08,854.75 386.67,854.02 386.30,852.10 C385.93,850.18 385.77,847.62 385.40,845.00Z"/>
</g>
</defs>
<g stroke="#9a9a9a" stroke-width="1.2">
<line x1="901.25" y1="417.00" x2="921.75" y2="417.00"/>
<line x1="816.00" y1="485.00" x2="838.50" y2="485.00"/>
<line x1="891.75" y1="539.50" x2="911.75" y2="539.50"/>
<line x1="832.00" y1="615.50" x2="852.00" y2="615.50"/>
</g>
<g class="green" transform="translate(834.20,386.40) scale(0.4327,0.4124) translate(-374.90,-771.20)"><use href="#prots"/></g>
<g class="pink" transform="translate(750.10,455.60) scale(0.4300,0.4091) translate(-374.90,-771.20)"><use href="#prots"/></g>
<g class="blue" transform="translate(824.90,509.40) scale(0.4341,0.4011) translate(-374.90,-771.20)"><use href="#prots"/></g>
<g class="pink2" transform="translate(766.10,585.10) scale(0.4300,0.4191) translate(-374.90,-771.20)"><use href="#prots"/></g>
<g class="red big"><use href="#prot"/></g>
<g class="sans"><text x="386.52" y="857.70" font-size="37.54" textLength="120.78" lengthAdjust="spacingAndGlyphs" fill="#fff" stroke="#fff">cGPDH</text></g>
<rect x="220.6" y="885.8" width="1.4" height="0.9" fill="#555"/>
<g class="sans"><text fill="#b3466e" stroke="#b3466e" filter="url(#pglow)"><tspan x="564.24" y="764.57" font-size="45.00" textLength="94.50" lengthAdjust="spacingAndGlyphs">NAD</tspan><tspan x="659.7" y="753.0" font-size="30" font-weight="bold" stroke-width="0">+</tspan></text></g>
<g class="script">
<text y="75.80" transform="translate(0,75.80) skewX(-9) translate(0,-75.80)"><tspan x="316.29" font-size="46.50" textLength="67.31" lengthAdjust="spacingAndGlyphs">CSE</tspan> <tspan x="386.61" font-size="34.00" textLength="18.57" lengthAdjust="spacingAndGlyphs">=</tspan> <tspan x="415.21" font-size="34.00" textLength="154.19" lengthAdjust="spacingAndGlyphs">cystathionine</tspan> <tspan x="577.02" font-size="34.00" textLength="153.49" lengthAdjust="spacingAndGlyphs">gamma-lyase</tspan></text>
<text y="327.30" transform="translate(0,327.30) skewX(-9) translate(0,-327.30)"><tspan x="129.00" font-size="34.00" textLength="157.71" lengthAdjust="spacingAndGlyphs"><tspan style="font-size:135%">E</tspan>rgothioneine</tspan></text>
<text y="585.00" transform="translate(0,585.00) skewX(-9) translate(0,-585.00)"><tspan x="616.40" font-size="34.00" textLength="138.63" lengthAdjust="spacingAndGlyphs"><tspan style="font-size:135%">P</tspan>ersulfides</tspan></text>
<text y="563.00" transform="translate(0,563.00) skewX(-9) translate(0,-563.00)"><tspan x="111.39" font-size="34.00" textLength="164.61" lengthAdjust="spacingAndGlyphs"><tspan style="font-size:135%">P</tspan>ersulfidation</tspan> <tspan x="288.33" font-size="34.00" textLength="23.67" lengthAdjust="spacingAndGlyphs">of</tspan> <tspan x="323.88" font-size="34.00" textLength="104.48" lengthAdjust="spacingAndGlyphs">cytosolic</tspan></text>
<text y="618.60" transform="translate(0,618.60) skewX(-9) translate(0,-618.60)"><tspan x="42.47" font-size="34.00" textLength="262.58" lengthAdjust="spacingAndGlyphs">glycerol-3-phosphate</tspan> <tspan x="317.81" font-size="34.00" textLength="173.58" lengthAdjust="spacingAndGlyphs">dehydrogenase</tspan></text>
<text y="675.00" transform="translate(0,675.00) skewX(-9) translate(0,-675.00)"><tspan x="165.69" font-size="34.00" textLength="20.04" lengthAdjust="spacingAndGlyphs">=</tspan> <tspan x="194.49" font-size="34.00" textLength="65.63" lengthAdjust="spacingAndGlyphs">extra</tspan> <tspan x="271.60" font-size="34.00" textLength="111.84" lengthAdjust="spacingAndGlyphs">activation</tspan></text>
<text y="810.10" transform="translate(0,810.10) skewX(-9) translate(0,-810.10)"><tspan x="594.33" font-size="33.00" textLength="99.05" lengthAdjust="spacingAndGlyphs"><tspan style="font-size:135%">(</tspan>more<tspan style="font-size:135%">!)</tspan></tspan></text>
</g>
</svg>
</body>
</html>
